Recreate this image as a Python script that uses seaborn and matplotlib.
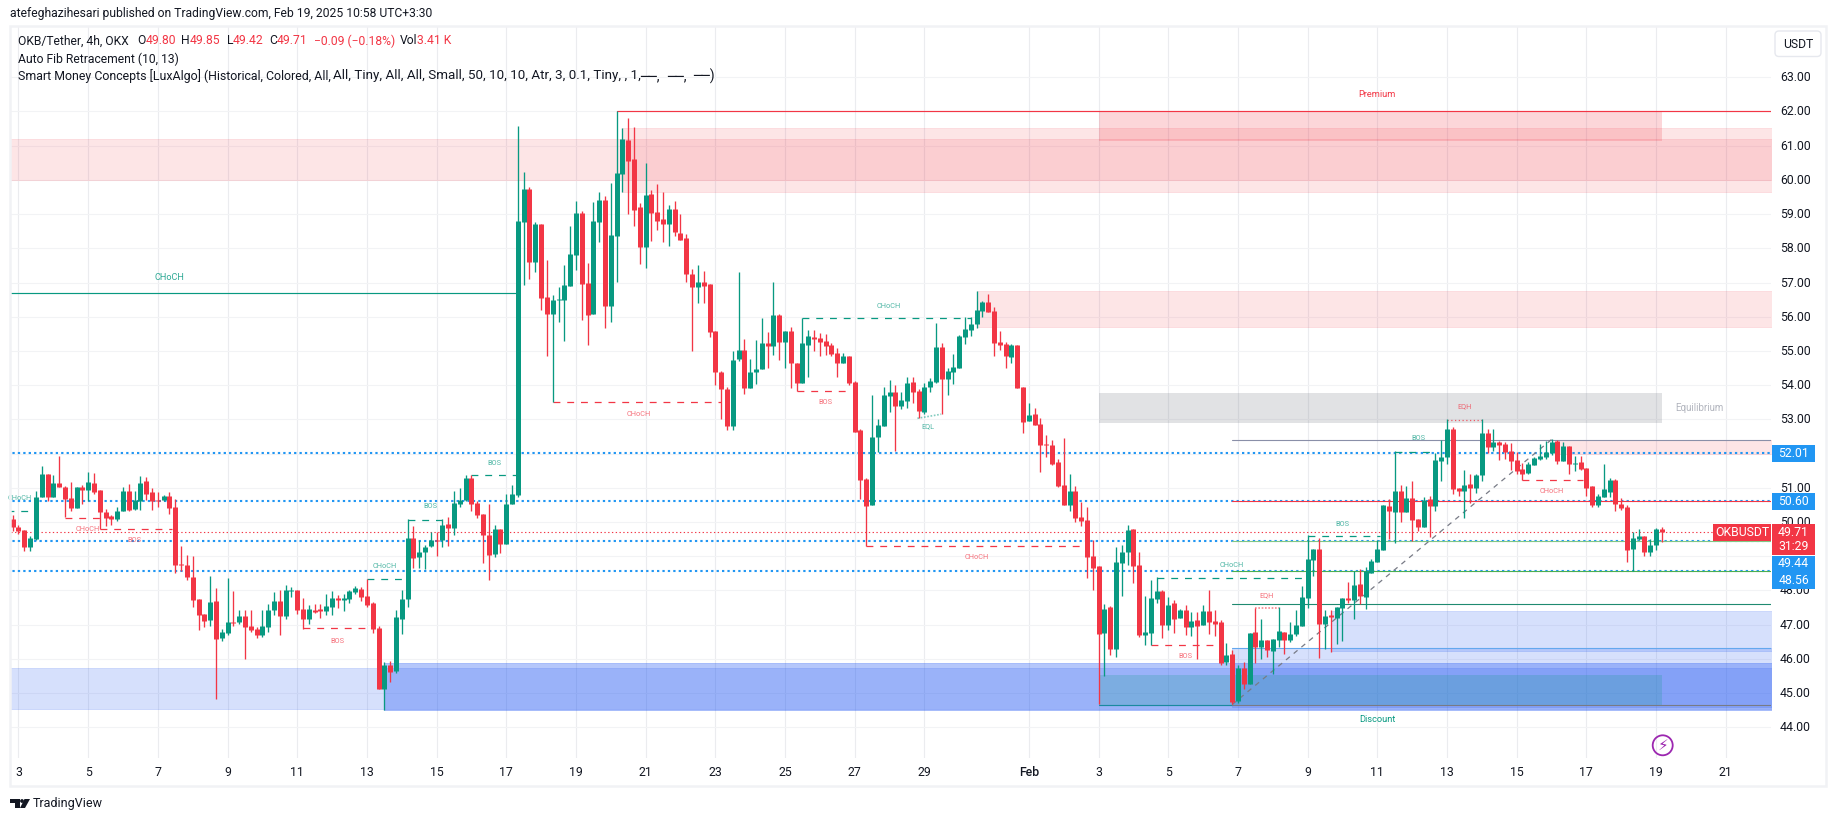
import matplotlib
matplotlib.use('Agg')
import matplotlib.pyplot as plt
import matplotlib.patches as mp
from matplotlib.transforms import IdentityTransform, ScaledTranslation
import pandas as pd
import seaborn as sns

W, H = 1835, 821
GREEN = '#089981'
RED = '#f23645'
BLUE = '#2157f3'
DOT_BLUE = '#2196f3'
AXIS_END = 303

# OKB/USDT 4h candles
opens = [
    50.08, 49.85, 49.76, 49.26, 49.50, 50.73, 51.40, 50.73, 51.13, 51.02,
    50.70, 50.40, 51.02, 50.93, 51.13, 50.93, 50.29, 50.17, 50.08, 50.32,
    50.90, 50.37, 50.61, 51.19, 50.87, 50.64, 50.64, 50.75, 50.43, 48.77,
    48.74, 48.39, 47.74, 47.30, 47.13, 47.68, 46.60, 46.75, 47.07, 47.07,
    47.25, 46.95, 46.86, 46.69, 46.92, 47.42, 47.68, 47.25, 47.98, 48.01,
    47.45, 47.16, 47.44, 47.45, 47.39, 47.51, 47.77, 47.71, 47.74, 47.95,
    48.03, 47.83, 47.62, 46.89, 45.11, 45.81, 45.64, 47.16, 47.74, 49.53,
    48.97, 49.12, 49.29, 49.47, 49.47, 49.94, 49.82, 50.52, 50.64, 51.28,
    50.55, 50.23, 49.61, 49.06, 49.79, 49.35, 50.52, 50.78, 58.77, 59.74,
    57.60, 58.71, 56.58, 56.08, 56.49, 56.49, 56.90, 57.81, 59.03, 56.99,
    56.08, 58.77, 59.41, 56.31, 58.36, 60.17, 61.17, 60.61, 59.21, 58.04,
    59.59, 59.06, 58.86, 58.71, 59.15, 58.45, 58.30, 57.25, 56.87, 57.02,
    56.96, 55.58, 54.38, 53.89, 52.81, 54.76, 55.03, 53.92, 54.38, 54.47,
    55.23, 55.14, 56.05, 55.26, 55.58, 54.65, 54.06, 55.17, 55.41, 55.38,
    55.29, 55.17, 54.94, 54.65, 54.85, 54.09, 52.69, 51.26, 50.50, 52.49,
    52.81, 53.69, 53.80, 53.39, 53.54, 54.10, 53.83, 53.22, 53.95, 54.09,
    55.12, 54.18, 54.39, 54.50, 55.41, 55.62, 55.79, 56.17, 56.43, 56.17,
    55.26, 55.21, 54.83, 55.18, 53.95, 52.95, 53.16, 52.87, 52.28, 52.25,
    51.76, 51.08, 50.50, 50.91, 50.15, 50.05, 49.00, 48.71, 46.75, 47.51,
    46.28, 48.79, 49.12, 49.79, 48.74, 46.69, 46.75, 47.74, 47.97, 46.98,
    47.62, 47.19, 47.42, 46.92, 47.13, 46.98, 47.39, 47.10, 47.07, 45.90,
    46.13, 44.76, 45.72, 45.26, 46.78, 46.34, 46.54, 46.22, 46.54, 46.78,
    46.54, 46.72, 46.95, 47.77, 48.88, 49.20, 47.01, 47.27, 47.18, 47.48,
    47.77, 47.71, 48.18, 47.80, 48.50, 48.82, 49.17, 50.46, 50.28, 50.90,
    50.28, 50.69, 50.08, 49.85, 50.66, 50.46, 51.78, 51.89, 52.71, 50.99,
    50.90, 51.10, 50.99, 51.37, 52.59, 52.19, 52.33, 52.27, 52.07, 51.80,
    51.54, 51.43, 51.66, 51.83, 51.89, 52.01, 52.36, 51.78, 52.21, 51.70,
    51.75, 51.57, 51.05, 50.49, 50.72, 50.87, 51.22, 50.52, 50.43, 49.20,
    49.50, 49.58, 49.12, 49.32, 49.80,
]
highs = [
    50.20, 49.91, 49.76, 49.59, 50.90, 51.63, 51.40, 51.37, 51.92, 51.05,
    51.16, 51.02, 51.08, 51.46, 51.43, 50.93, 50.37, 50.20, 50.43, 51.02,
    51.11, 50.90, 51.34, 51.31, 50.99, 50.87, 50.78, 50.87, 50.67, 49.29,
    49.03, 49.00, 47.74, 47.30, 48.42, 48.06, 46.86, 48.36, 47.98, 47.42,
    47.42, 47.42, 46.92, 47.42, 47.60, 47.95, 48.01, 48.15, 48.09, 48.01,
    47.77, 47.57, 47.60, 47.60, 47.89, 47.98, 47.86, 47.89, 48.01, 48.12,
    48.09, 48.33, 47.65, 46.95, 45.90, 45.93, 47.42, 48.01, 50.08, 49.88,
    49.47, 49.32, 49.70, 49.70, 50.08, 50.14, 50.90, 50.99, 51.37, 51.37,
    50.61, 50.23, 50.52, 49.91, 49.79, 50.81, 51.08, 61.58, 60.23, 59.79,
    58.77, 58.71, 57.66, 56.64, 56.87, 57.51, 58.65, 59.38, 59.09, 57.57,
    59.35, 59.65, 59.53, 59.91, 62.01, 61.52, 61.81, 61.55, 59.33, 60.50,
    59.71, 59.88, 59.65, 59.27, 59.38, 59.00, 58.42, 57.40, 57.51, 57.34,
    56.96, 55.58, 54.41, 53.95, 55.00, 57.31, 55.35, 54.76, 55.32, 55.96,
    55.55, 57.02, 56.08, 55.58, 55.70, 54.65, 55.96, 55.61, 55.61, 55.52,
    55.50, 55.23, 55.09, 54.94, 54.85, 54.12, 52.72, 51.29, 53.71, 53.01,
    53.95, 54.15, 54.01, 53.80, 54.24, 54.24, 53.89, 54.07, 54.21, 55.82,
    55.24, 54.50, 54.91, 55.47, 56.00, 56.00, 56.76, 56.46, 56.67, 56.29,
    55.59, 55.26, 55.21, 55.18, 53.95, 53.48, 53.33, 53.04, 52.54, 52.40,
    51.84, 52.46, 51.40, 51.05, 50.59, 50.43, 49.47, 48.71, 47.60, 47.54,
    49.26, 49.32, 49.90, 49.79, 49.12, 47.83, 48.30, 48.38, 48.00, 47.80,
    47.71, 47.45, 47.57, 47.36, 47.36, 47.57, 48.00, 47.42, 47.13, 46.45,
    46.25, 45.81, 45.90, 46.75, 47.48, 47.15, 46.54, 46.57, 47.51, 46.78,
    47.07, 47.42, 48.12, 49.61, 49.20, 49.52, 47.42, 47.42, 47.51, 47.77,
    48.24, 48.56, 48.62, 48.68, 48.91, 49.47, 50.49, 50.66, 52.07, 51.07,
    51.04, 51.19, 50.08, 50.72, 50.75, 52.01, 52.39, 53.00, 52.77, 50.99,
    51.51, 51.40, 51.40, 53.00, 52.71, 52.71, 52.36, 52.33, 52.30, 52.04,
    51.72, 51.75, 51.89, 52.27, 52.36, 52.42, 52.39, 52.33, 52.21, 51.92,
    51.92, 51.57, 51.05, 50.81, 51.69, 51.28, 51.25, 50.69, 50.49, 49.70,
    49.79, 49.58, 49.50, 49.82, 49.85,
]
lows = [
    49.73, 49.64, 49.15, 49.15, 49.47, 50.73, 50.61, 50.73, 51.02, 50.14,
    50.32, 50.40, 50.52, 50.61, 50.81, 49.79, 49.88, 49.91, 50.02, 50.32,
    50.32, 50.35, 50.35, 50.64, 50.35, 50.43, 50.61, 50.23, 48.50, 48.56,
    48.30, 47.51, 46.84, 46.92, 46.95, 44.82, 46.51, 46.69, 46.95, 47.01,
    45.99, 46.78, 46.60, 46.63, 46.78, 47.27, 46.69, 47.16, 47.80, 47.30,
    46.86, 47.01, 47.33, 47.19, 47.27, 47.27, 47.48, 47.39, 47.62, 47.89,
    47.68, 47.51, 46.75, 45.11, 44.50, 45.31, 45.58, 46.72, 47.51, 48.65,
    48.65, 48.62, 49.26, 49.00, 49.26, 49.29, 49.61, 50.43, 50.61, 50.32,
    50.11, 48.80, 48.30, 48.97, 49.09, 49.35, 50.52, 50.72, 56.93, 57.10,
    57.31, 56.20, 54.85, 53.51, 55.85, 55.29, 56.90, 57.37, 55.90, 55.17,
    56.08, 58.19, 55.67, 55.85, 57.02, 59.65, 59.00, 58.65, 57.54, 57.43,
    58.21, 58.54, 58.19, 58.07, 58.36, 58.24, 57.02, 55.00, 56.40, 56.40,
    55.41, 54.00, 53.01, 52.69, 52.69, 54.71, 53.74, 53.92, 54.03, 54.47,
    54.50, 54.88, 54.74, 54.50, 53.92, 53.82, 54.05, 54.24, 55.00, 54.85,
    54.88, 54.85, 54.24, 54.65, 54.00, 52.63, 50.67, 49.29, 50.50, 52.05,
    52.81, 53.22, 52.08, 53.31, 53.34, 53.48, 53.04, 53.16, 53.80, 54.07,
    53.16, 53.71, 54.04, 54.50, 55.21, 55.44, 55.67, 55.99, 56.14, 54.86,
    55.03, 54.50, 54.65, 53.92, 52.60, 52.95, 52.84, 51.46, 51.90, 51.67,
    51.02, 50.50, 50.32, 50.00, 49.88, 48.36, 48.00, 44.67, 45.49, 46.10,
    46.04, 47.83, 48.74, 48.21, 46.63, 46.40, 46.40, 47.62, 46.60, 46.83,
    46.75, 47.19, 46.69, 46.66, 45.99, 46.98, 46.72, 46.66, 45.81, 45.81,
    44.67, 44.70, 45.11, 45.26, 45.87, 45.99, 46.04, 45.55, 46.34, 46.13,
    46.48, 46.66, 46.95, 47.48, 48.41, 46.02, 46.28, 46.19, 46.42, 46.51,
    47.62, 47.15, 47.59, 47.45, 48.50, 48.82, 49.17, 49.50, 49.38, 49.99,
    50.28, 49.44, 49.73, 49.85, 49.55, 50.31, 51.19, 51.69, 50.81, 50.75,
    50.11, 50.55, 50.84, 51.19, 52.01, 52.07, 51.80, 51.83, 51.51, 51.40,
    51.22, 51.40, 51.66, 51.80, 51.83, 51.95, 51.69, 51.78, 51.40, 51.48,
    51.51, 50.75, 50.43, 50.43, 50.72, 50.72, 50.31, 50.34, 48.82, 48.56,
    49.47, 49.00, 49.00, 49.17, 49.42,
]
closes = [
    49.85, 49.73, 49.26, 49.53, 50.73, 51.40, 50.73, 51.13, 51.02, 50.67,
    50.40, 51.02, 50.93, 51.16, 50.87, 50.29, 50.11, 50.08, 50.32, 50.90,
    50.35, 50.64, 51.13, 50.81, 50.61, 50.62, 50.75, 50.40, 48.74, 48.74,
    48.39, 47.71, 47.27, 47.10, 47.65, 46.57, 46.78, 47.07, 47.04, 47.25,
    46.92, 46.84, 46.69, 46.95, 47.42, 47.68, 47.25, 48.01, 48.00, 47.42,
    47.16, 47.45, 47.38, 47.39, 47.54, 47.77, 47.72, 47.77, 47.98, 48.06,
    47.80, 47.57, 46.86, 45.11, 45.81, 45.61, 47.22, 47.74, 49.53, 48.94,
    49.12, 49.26, 49.47, 49.43, 49.91, 49.82, 50.55, 50.64, 51.28, 50.52,
    50.20, 49.61, 49.03, 49.79, 49.35, 50.52, 50.81, 58.80, 59.74, 57.60,
    58.71, 56.55, 56.08, 56.49, 56.51, 56.93, 57.83, 59.03, 56.96, 56.05,
    58.80, 59.41, 56.31, 58.39, 60.20, 61.20, 60.55, 59.12, 58.04, 59.56,
    59.03, 58.80, 58.71, 59.15, 58.48, 58.24, 57.25, 56.87, 57.02, 56.90,
    55.55, 54.38, 53.89, 52.81, 54.74, 55.03, 53.92, 54.38, 54.47, 55.23,
    55.14, 56.05, 55.26, 55.58, 54.65, 54.06, 55.23, 55.44, 55.35, 55.26,
    55.14, 54.91, 54.65, 54.85, 54.06, 52.63, 51.23, 50.47, 52.49, 52.84,
    53.71, 53.80, 53.39, 53.57, 54.07, 53.80, 53.25, 53.95, 54.12, 55.12,
    54.18, 54.42, 54.53, 55.44, 55.65, 55.79, 56.20, 56.43, 56.14, 55.24,
    55.18, 54.86, 55.18, 53.92, 52.93, 53.13, 52.84, 52.25, 52.25, 51.70,
    51.05, 50.50, 50.91, 50.12, 50.03, 48.97, 48.65, 46.72, 47.45, 46.28,
    48.82, 49.12, 49.76, 48.71, 46.69, 46.78, 47.77, 47.97, 46.98, 47.56,
    47.16, 47.42, 46.92, 47.10, 46.95, 47.39, 47.07, 47.01, 45.87, 46.10,
    44.73, 45.72, 45.26, 46.75, 46.34, 46.54, 46.25, 46.57, 46.80, 46.54,
    46.72, 46.98, 47.80, 48.91, 49.20, 47.01, 47.24, 47.21, 47.51, 47.77,
    47.71, 48.15, 47.83, 48.56, 48.85, 49.20, 50.49, 50.31, 50.90, 50.28,
    50.69, 50.05, 49.85, 50.63, 50.46, 51.81, 51.89, 52.71, 50.96, 50.90,
    51.07, 50.99, 51.37, 52.59, 52.19, 52.33, 52.24, 52.04, 51.78, 51.48,
    51.40, 51.69, 51.86, 51.92, 52.04, 52.33, 51.78, 52.21, 51.69, 51.72,
    51.54, 50.99, 50.49, 50.75, 50.96, 51.22, 50.52, 50.40, 49.17, 49.52,
    49.58, 49.12, 49.32, 49.79, 49.71,
]

# order blocks and premium / discount boxes
zone_left = [-1, 105, 187, 166, 266, 187, -1, 64, 210, 227, 187]
zone_right = [AXIS_END, AXIS_END, 284, AXIS_END, AXIS_END, 284, AXIS_END, AXIS_END, AXIS_END, AXIS_END, 284]
zone_top = [61.21, 61.51, 62.00, 56.75, 52.41, 53.77, 45.72, 45.89, 46.33, 47.41, 45.52]
zone_bottom = [60.00, 59.65, 61.15, 55.69, 52.00, 52.90, 44.53, 44.50, 44.60, 46.23, 44.66]
zone_color = [RED, RED, RED, RED, RED, '#787b86', BLUE, BLUE, BLUE, BLUE, GREEN]
zone_alpha = [.13, .13, .2, .13, .13, .22, .18, .33, .18, .18, .2]

# dashed structure breaks
break_start = [-1, 9, 15, 50, 61, 68, 79, 93, 135, 136, 147, 197, 196, 223, 238, 260]
break_end = [2.7, 15, 27.4, 61.8, 67.5, 74, 87, 122, 144.5, 165, 184, 222.8, 207.7, 235.4, 244.6, 270.5]
break_price = [50.31, 50.13, 49.78, 46.89, 48.32, 50.07, 51.36, 53.50, 53.83, 55.95, 49.29, 48.37, 46.39, 49.60, 52.06, 51.24]
break_color = [GREEN, RED, RED, RED, GREEN, GREEN, GREEN, RED, RED, GREEN, RED, GREEN, RED, GREEN, GREEN, RED]

# small labels of the indicator
label_text = ['CHoCH', 'CHoCH', 'BOS', 'BOS', 'CHoCH', 'BOS', 'BOS', 'CHoCH', 'BOS', 'CHoCH', 'EQL',
              'CHoCH', 'CHoCH', 'BOS', 'BOS', 'EQH', 'BOS', 'EQH', 'CHoCH']
label_x = [1.2, 12.9, 21, 56, 64, 72, 83, 107.8, 139.9, 150.9, 157.7,
           166, 210, 202, 229, 216, 242, 250, 265]
label_y = [50.68, 49.78, 49.45, 46.52, 48.69, 50.44, 51.71, 53.15, 53.50, 56.30, 52.79,
           48.97, 48.72, 46.06, 49.94, 47.84, 52.44, 53.37, 50.89]
label_color = [GREEN, RED, RED, RED, GREEN, GREEN, GREEN, RED, RED, GREEN, GREEN,
               RED, GREEN, RED, GREEN, RED, GREEN, RED, RED]

level_prices = [52.01, 50.60, 49.44, 48.56]
fib_prices = [52.41, 50.60, 49.45, 48.56, 47.61, 46.33, 44.66]
fib_colors = ['#8a8fa8', RED, '#81c784', '#4caf50', '#1f8a70', '#64a8ee', '#787b86']

days = [3, 5, 7, 9, 11, 13, 15, 17, 19, 21, 23, 25, 27, 29, 'Feb', 3, 5, 7, 9, 11, 13, 15, 17, 19, 21]
day_index = [1, 13, 25, 37, 49, 61, 73, 85, 97, 109, 121, 133, 145, 157, 175,
             187, 199, 211, 223, 235, 247, 259, 271, 283, 295]
price_ticks = list(range(44, 64))
hidden_ticks = [49, 52]  # sit fully under the price tags

sns.set_theme(style='white')
plt.rcParams['font.family'] = ['Roboto', 'DejaVu Sans']

candles = pd.DataFrame({'open': opens, 'high': highs, 'low': lows, 'close': closes})
candles['candle'] = candles.index
candles['side'] = ['up' if c >= o else 'down' for o, c in zip(opens, closes)]
candles['top'] = candles[['open', 'close']].max(axis=1)
candles['bottom'] = candles[['open', 'close']].min(axis=1)
wicks = candles.melt(id_vars=['candle', 'side'], value_vars=['high', 'low'], value_name='price')
bodies = candles.melt(id_vars=['candle', 'side'], value_vars=['top', 'bottom'], value_name='price')
palette = {'up': GREEN, 'down': RED}


def box(x0, y0, x1, y1, **kw):
    # pixel rectangle, y counted from the top of the picture
    return mp.Rectangle((x0, H - y1), x1 - x0, y1 - y0, transform=IdentityTransform(), **kw)


def put(x, y, s, **kw):
    kw.setdefault('va', 'center')
    kw.setdefault('color', '#131722')
    kw.setdefault('fontsize', 8.7)
    return fig.text(x / W, 1 - y / H, s, **kw)


fig = plt.figure(figsize=(W / 100, H / 100), dpi=100, facecolor='white')
ax = fig.add_axes([11 / W, 1 - 758 / H, 1760 / W, 731 / H])

for l, r, t, b, c, a in zip(zone_left, zone_right, zone_top, zone_bottom, zone_color, zone_alpha):
    ax.fill_between([l, r], b, t, color=c, alpha=a, linewidth=0 if r == 284 else .6, zorder=1)

for p in level_prices:
    ax.plot([-1, AXIS_END], [p, p], color=DOT_BLUE, lw=1.5, ls=(0, (1.1, 1.5)), zorder=2)
ax.plot([-1, AXIS_END], [closes[-1], closes[-1]], color=RED, lw=.8, ls=(0, (1.2, 2.2)), zorder=2)

ax.plot([-1, 87], [56.68, 56.68], color=GREEN, lw=.85, zorder=2)
ax.plot([104, AXIS_END], [62, 62], color=RED, lw=.85, zorder=2)
ax.plot([187, 210], [44.66, 44.66], color='#1a8aa0', lw=.85, zorder=2)
for p, c in zip(fib_prices, fib_colors):
    ax.plot([210, AXIS_END], [p, p], color=c, lw=.8, zorder=2)
ax.plot([210, 265], [44.66, 52.41], color='#787b86', lw=.9, ls=(0, (4, 4)), zorder=2)

for s, e, p, c in zip(break_start, break_end, break_price, break_color):
    ax.plot([s, e], [p, p], color=c, lw=.9, ls=(0, (5.5, 5.5)), zorder=2)
ax.plot([155.8, 159.9], [53.03, 53.15], color=GREEN, alpha=.5, lw=1.2, ls=(0, (1, 1)), zorder=2)
ax.plot([213.9, 218], [47.49, 47.49], color=RED, alpha=.6, lw=1.2, ls=(0, (1, 1)), zorder=2)
ax.plot([247, 253], [52.99, 52.99], color=RED, alpha=.8, lw=.9, ls=(0, (1, 2)), zorder=2)

sns.lineplot(data=wicks, x='candle', y='price', units='candle', estimator=None, hue='side',
             palette=palette, legend=False, sort=False, linewidth=.95, solid_capstyle='butt',
             ax=ax, zorder=3)
sns.lineplot(data=bodies, x='candle', y='price', units='candle', estimator=None, hue='side',
             palette=palette, legend=False, sort=False, linewidth=3.6, solid_capstyle='butt',
             ax=ax, zorder=4)

for s, x, y, c in zip(label_text, label_x, label_y, label_color):
    ax.text(x, y, s, color=c, alpha=.7, fontsize=5.3, ha='center', va='center', zorder=5)
ax.text(27, 57.15, 'CHoCH', color=GREEN, alpha=.85, fontsize=6.6, ha='center', va='center', zorder=5)
ax.text(235, 62.5, 'Premium', color=RED, fontsize=6.7, ha='center', va='center', zorder=5)
ax.text(235, 44.22, 'Discount', color=GREEN, fontsize=6.7, ha='center', va='center', zorder=5)
ax.text(290.4, 53.34, 'Equilibrium', color='#b2b5be', fontsize=7, ha='center', va='center', zorder=5)

ax.set_xlim(-.29, AXIS_END - .2)
ax.set_ylim(43.10, 64.47)
ax.set_xticks(day_index)
ax.set_xticklabels(days)
ax.set_yticks(price_ticks)
ax.set_yticklabels(['' if p in hidden_ticks else f'{p:.2f}' for p in price_ticks])
ax.yaxis.tick_right()
ax.tick_params(axis='x', length=0, pad=6, labelsize=8.8, labelcolor='#131722')
ax.tick_params(axis='y', length=0, pad=6.5, labelsize=8.8, labelcolor='#131722')
ax.set_xlabel('')
ax.set_ylabel('')
ax.set_axisbelow(True)
ax.grid(axis='x', color='#ebecef', lw=.8)
ax.grid(axis='y', color='#f2f3f5', lw=.8)
for tick in ax.get_xticklabels():
    if tick.get_text() == 'Feb':
        tick.set_fontweight('medium')
for tick in ax.get_yticklabels():
    tick.set_transform(tick.get_transform() + ScaledTranslation(0, 1 / 100, fig.dpi_scale_trans))
for sp in ax.spines.values():
    sp.set_visible(False)

# frame around the panes
fig.add_artist(box(10, 26, 1825.5, 786, fill=False, edgecolor='#f1f2f5', lw=1.8))

# price axis tags
for p, y0, y1 in zip(level_prices, [445, 493, 555.5, 572], [462, 510, 572, 589]):
    fig.add_artist(box(1772, y0, 1815, y1, facecolor=DOT_BLUE, edgecolor='none', zorder=3))
    put(1793.5, (y0 + y1) / 2, f'{p:.2f}', color='white', fontsize=8.8, ha='center', zorder=4)
fig.add_artist(box(1772, 524, 1815, 555, facecolor=RED, edgecolor='none', zorder=3))
fig.add_artist(box(1713, 524, 1771, 541, facecolor=RED, edgecolor='none', zorder=3))
put(1793.5, 532.5, f'{closes[-1]:.2f}', color='white', fontsize=8.8, ha='center', zorder=4)
put(1793.5, 546, '31:29', color='white', fontsize=8.8, ha='center', zorder=4)
put(1742, 532.5, 'OKBUSDT', color='white', fontsize=8.8, ha='center', zorder=4)

fig.add_artist(mp.FancyBboxPatch((1775, H - 56.5), 46, 25.5, boxstyle='round,pad=0,rounding_size=4',
                                 transform=IdentityTransform(), facecolor='white', edgecolor='#e6e8ee', lw=1))
put(1798, 44.5, 'USDT', ha='center', fontsize=8.7)

# header and legend
put(9.5, 14, 'atefeghazihesari published on TradingView.com, Feb 19, 2025 10:58 UTC+3:30')
put(18, 41, 'OKB/Tether, 4h, OKX')
legend_x = [137, 145.5, 181.4, 189.6, 226.5, 232.8, 269.7, 276.5, 314.3, 399.6, 417]
legend_s = ['O', '49.80', 'H', '49.85', 'L', '49.42', 'C', '49.71', '−0.09 (−0.18%)', 'Vol', '3.41 K']
for k, (x, s) in enumerate(zip(legend_x, legend_s)):
    put(x, 41, s, color='#131722' if k in (0, 2, 4, 6, 9) else RED)
put(18, 59, 'Auto Fib Retracement (10, 13)')
put(18, 76, 'Smart Money Concepts [LuxAlgo] (Historical, Colored, All,', fontsize=8.9)
put(333, 76, 'All, Tiny, All, All, Small, 50, 10, 10, Atr, 3, 0.1, Tiny, , 1,', fontsize=9.65)
for x, s in zip([640, 667, 693], ['──,', '──,', '──)']):
    put(x, 76, s, fontsize=10)

# lightning mark
fig.add_artist(mp.Circle((1662.7, H - 745.3), 10, transform=IdentityTransform(),
                         fill=False, edgecolor='#9c27b0', lw=1.3))
put(1662.7, 745.3, '⚡', color='#9c27b0', fontsize=11, ha='center', family='DejaVu Sans')

# TradingView mark
fig.add_artist(mp.Polygon([(10, H - 799), (19.5, H - 799), (19.5, H - 808), (15, H - 808), (15, H - 803), (10, H - 803)],
                          transform=IdentityTransform(), facecolor='#131722', edgecolor='none'))
fig.add_artist(mp.Circle((22, H - 801), 1.9, transform=IdentityTransform(), facecolor='#131722', edgecolor='none'))
fig.add_artist(mp.Polygon([(24.5, H - 799), (30, H - 799), (25, H - 808), (20, H - 808)],
                          transform=IdentityTransform(), facecolor='#131722', edgecolor='none'))
put(33, 803.5, 'TradingView', fontsize=9)

fig.savefig('out.png', dpi=100)
